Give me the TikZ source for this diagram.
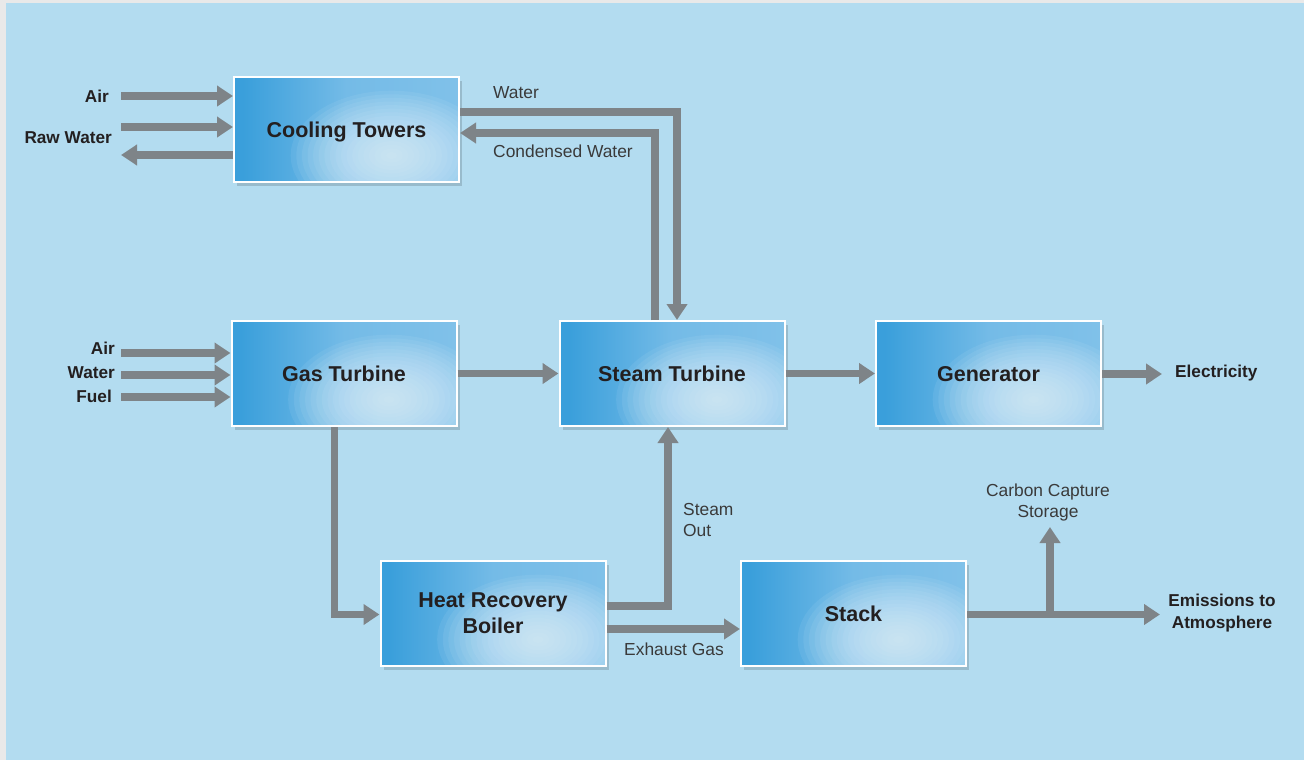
\documentclass[tikz,border=0pt]{standalone}
\usepackage{fontspec}
\setmainfont{Liberation Sans}
\usetikzlibrary{arrows.meta,shadows}
\definecolor{bgblue}{HTML}{B3DCF0}
\definecolor{edgegray}{HTML}{E9E9E9}
\definecolor{arrgray}{HTML}{7E8488}
\definecolor{glowc}{HTML}{E6F5FD}
\definecolor{bxa}{HTML}{44A4DD}
\definecolor{bxdark}{HTML}{3A9FDB}
\definecolor{bxm}{HTML}{74BBE7}
\definecolor{bxr}{HTML}{8CC7EB}
\definecolor{txtdark}{HTML}{231F20}
\definecolor{txtreg}{HTML}{3A3A3A}
\pgfdeclarehorizontalshading{boxh}{100bp}{%
  color(0bp)=(bxa); color(20bp)=(bxdark); color(27bp)=(bxdark);
  color(50bp)=(bxm); color(100bp)=(bxr)}
\tikzset{
  box/.style={draw=white, line width=2pt, shading=boxh,
    minimum width=225pt, minimum height=105pt, inner sep=0pt,
    font=\fontsize{21.5}{26}\selectfont\bfseries, text=txtdark, align=center,
    text depth=0pt,
    drop shadow={shadow xshift=3pt, shadow yshift=-4pt, fill=black, opacity=0.15},
    path picture={\foreach \k in {1,...,18}{\fill[glowc, opacity=0.08]
      ([xshift=45pt,yshift=-26pt]path picture bounding box.center)
      ellipse [x radius=5.6*\k pt, y radius=3.6*\k pt];}}},
  arr/.style={draw=arrgray, line width=7.5pt, -{Triangle[width=20pt,length=16pt]}},
  blbl/.style={font=\fontsize{17.2}{21}\selectfont\bfseries, text=txtdark, inner sep=0pt},
  rlbl/.style={font=\fontsize{17.4}{21}\selectfont, text=txtreg, inner sep=0pt},
}
\begin{document}
\begin{tikzpicture}[x=1pt,y=-1pt]
\useasboundingbox (0,0) rectangle (1304,760);
\fill[edgegray] (0,0) rectangle (1304,760);
\fill[bgblue] (6,3) rectangle (1304,760);

% boxes
\node[box] (ct) at (346.5,129.5) {Cooling Towers};
\node[box] (gt) at (344,373.5) {Gas Turbine};
\node[box] (st) at (672,373.5) {Steam Turbine};
\node[box] (gen) at (988.5,373.5) {Generator};
\node[box] (hrb) at (493,613.5) {Heat Recovery\\Boiler};
\node[box] (stack) at (853.5,613.5) {Stack};

% labels
\node[blbl, anchor=east] (lair1) at (109,96) {Air};
\node[blbl, anchor=east] (lraw) at (112,138) {Raw Water};
\node[rlbl, anchor=west] (lwater) at (493,93) {Water};
\node[rlbl, anchor=west] (lcond) at (493,151) {Condensed Water};
\node[blbl, anchor=east] (lair2) at (115,348) {Air};
\node[blbl, anchor=east] (lwat2) at (115,373) {Water};
\node[blbl, anchor=east] (lfuel) at (112,396) {Fuel};
\node[blbl, anchor=west] (lelec) at (1175,373) {Electricity};
\node[rlbl, anchor=west, align=left] (lsteam) at (683,520) {Steam\\Out};
\node[rlbl] (lexh) at (674,649) {Exhaust Gas};
\node[rlbl, align=center] (lccs) at (1048,502) {Carbon Capture\\Storage};
\node[blbl, align=center, font=\fontsize{17.2}{22}\selectfont\bfseries] (lemis) at (1222,613) {Emissions to\\Atmosphere};

% coordinates
\coordinate (ca) at (121,96);
\coordinate (cr) at (121,127);
\coordinate (co) at (121,155);
\coordinate (ga) at (121,353);
\coordinate (gw) at (121,375);
\coordinate (gf) at (121,397);
\coordinate (wx) at (677,112);
\coordinate (cx) at (655,133);
\coordinate (e1) at (1162,374);
\coordinate (g1) at (334.5,614.5);
\coordinate (h1) at (668,606);
\coordinate (h2) at (700,629);
\coordinate (em) at (1160,614.5);
\coordinate (cc0) at (1050,614.5);
\coordinate (cc) at (1050,527);

% connectors
\draw[arr] (ca) -- (ct.west |- ca);
\draw[arr] (cr) -- (ct.west |- cr);
\draw[arr] (ct.west |- co) -- (co);
\draw[arr] (ga) -- (gt.west |- ga);
\draw[arr] (gw) -- (gt.west |- gw);
\draw[arr] (gf) -- (gt.west |- gf);
\draw[arr] (ct.east |- wx) -| (st.north -| wx);
\draw[arr] (st.north -| cx) |- (ct.east |- cx);
\draw[arr] (gt.east) -- (st.west);
\draw[arr] (st.east) -- (gen.west);
\draw[arr] (gen.east |- e1) -- (e1);
\draw[arr] (gt.south -| g1) |- (hrb.west |- g1);
\draw[arr] (hrb.east |- h1) -| (st.south -| h1);
\draw[arr] (hrb.east |- h2) -- (stack.west |- h2);
\draw[arr] (stack.east |- em) -- (em);
\draw[arr] (cc0) -- (cc);
\end{tikzpicture}
\end{document}
